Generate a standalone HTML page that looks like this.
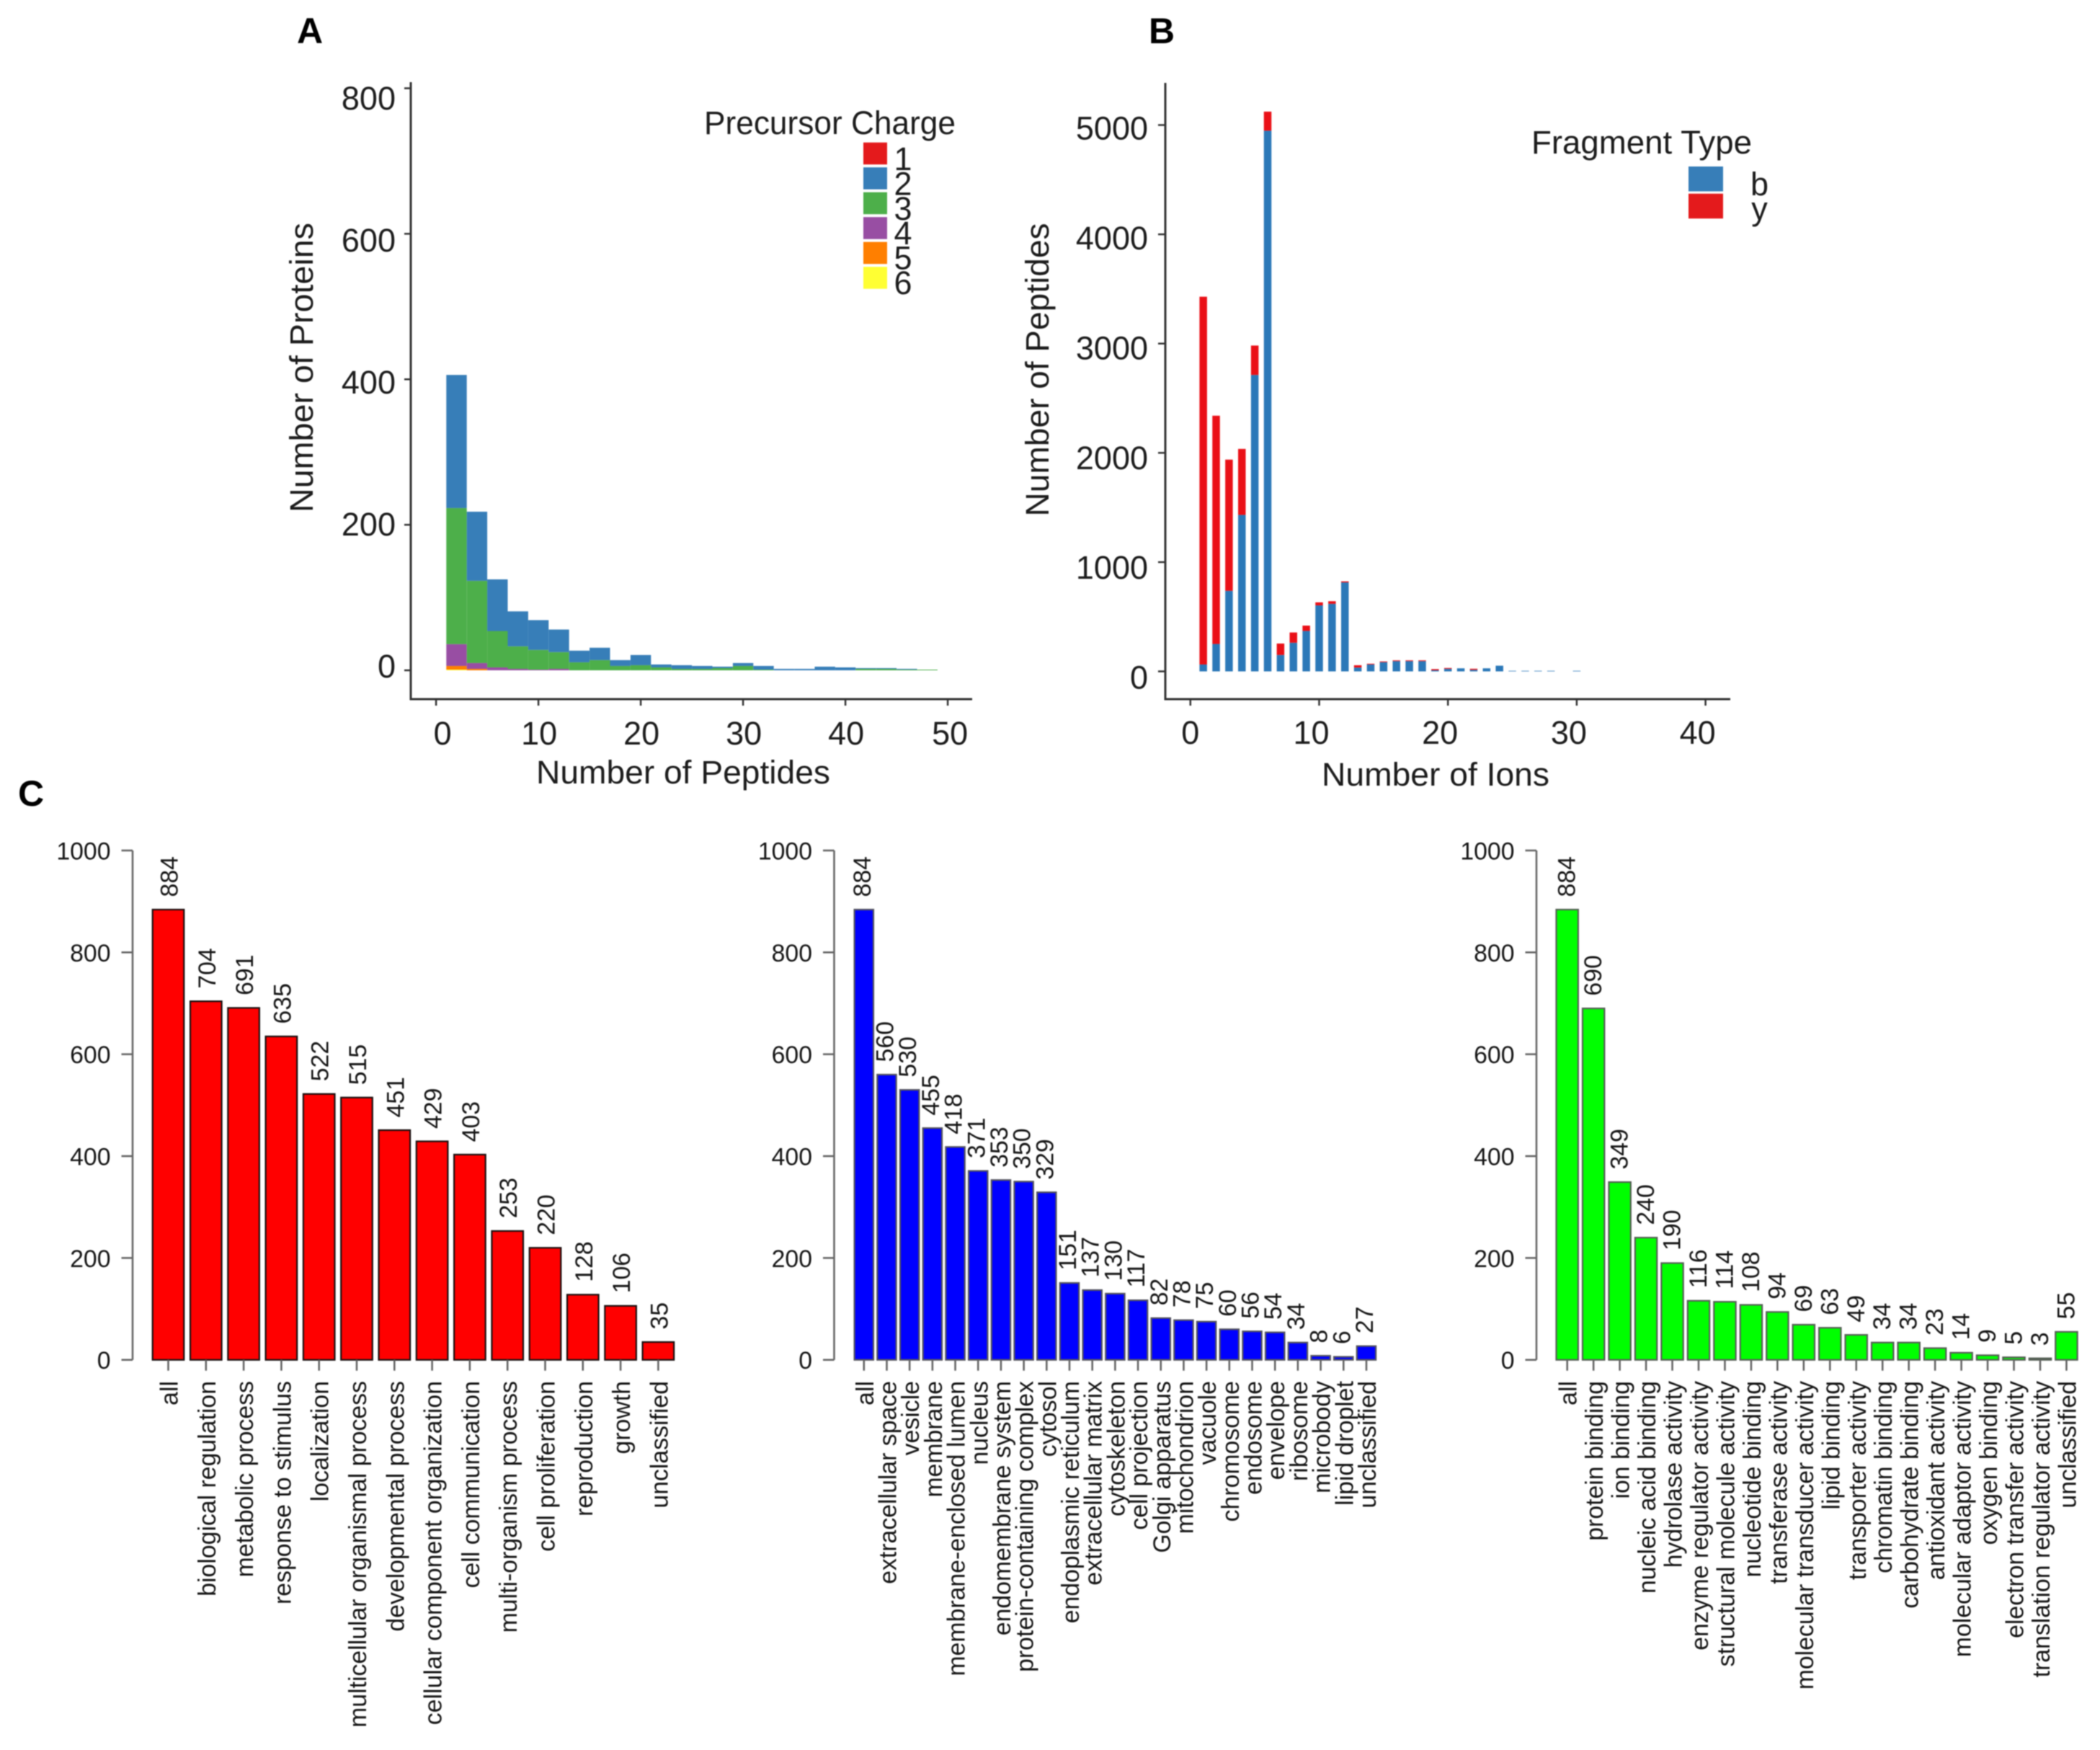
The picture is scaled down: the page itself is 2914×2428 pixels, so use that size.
<!DOCTYPE html>
<html lang="en">
<head>
<meta charset="utf-8">
<title>Proteomics summary charts</title>
<style>
html,body{margin:0;padding:0;background:#fff;}
body{width:2914px;height:2428px;overflow:hidden;}
svg{display:block;filter:blur(0.7px);}
text{font-family:"Liberation Sans",sans-serif;}
.gg{fill:#1c1c1c;font-size:45px;}
.rb{fill:#151515;font-size:33.8px;}
.panel{fill:#000;font-size:50px;font-weight:bold;}
</style>
</head>
<body>
<svg id="figure" xmlns="http://www.w3.org/2000/svg" width="2914" height="2428" viewBox="0 0 2914 2428">
  <rect x="0" y="0" width="2914" height="2428" fill="#fff"/>

  <text class="panel" x="412" y="60">A</text>
  <text class="panel" x="1594" y="60">B</text>
  <text class="panel" x="25" y="1118">C</text>

  <g id="chartA">
    <text class="gg" x="948" y="1087" text-anchor="middle" textLength="408" lengthAdjust="spacingAndGlyphs">Number of Peptides</text>
    <text class="gg" transform="translate(434,510) rotate(-90)" text-anchor="middle" textLength="402" lengthAdjust="spacingAndGlyphs">Number of Proteins</text>
    <text class="gg" x="977" y="186" textLength="349" lengthAdjust="spacingAndGlyphs">Precursor Charge</text>
  </g>

  <g id="chartB">
    <text class="gg" x="1992" y="1090" text-anchor="middle" textLength="316" lengthAdjust="spacingAndGlyphs">Number of Ions</text>
    <text class="gg" transform="translate(1455,513) rotate(-90)" text-anchor="middle" textLength="407" lengthAdjust="spacingAndGlyphs">Number of Peptides</text>
    <text class="gg" x="2125" y="213" textLength="306" lengthAdjust="spacingAndGlyphs">Fragment Type</text>
  </g>

  <g id="chartC1"></g>
  <g id="chartC2"></g>
  <g id="chartC3"></g>
</svg>

<script>
/* ---------- Panel A data ---------- */
const aBinStarts = [1,3,5,7,9,11,13,15,17,19,21,23,25,27,29,31,33,35,37,39,41,43,45,47];
const aCharge6 = [1,0,0,0,0,0,0,0,0,0,0,0,0,0,0,0,0,0,0,0,0,0,0,0];
const aCharge5 = [5,2,0,0,0,0,0,0,0,0,0,0,0,0,0,0,0,0,0,0,0,0,0,0];
const aCharge4 = [30,8,4,2,1,2,0,0,0,0,0,0,0,0,0,0,0,0,0,0,0,0,0,0];
const aCharge3 = [187,113,50,31,27,23,11,14,6,7,4,2,2,3,6,1,0,0,0,0,2,2,1,1];
const aCharge2 = [183,95,71,48,41,31,16,17,8,14,4,5,4,2,4,5,2,2,5,4,1,1,1,0];
const aXTicks = [0,10,20,30,40,50];
const aYTicks = [0,200,400,600,800];
const aLegendLabels = ['1','2','3','4','5','6'];

/* ---------- Panel B data ---------- */
const bIons = [1,2,3,4,5,6,7,8,9,10,11,12,13,14,15,16,17,18,19,20,21,22,23,24,25,26,27,28,30];
const bTypeB = [63,251,737,1432,2713,4948,150,262,370,604,618,814,35,63,84,94,94,94,10,24,28,14,28,52,5,5,5,5,5];
const bTypeY = [3366,2089,1201,604,269,175,105,94,49,28,24,10,21,7,7,7,7,7,11,7,0,10,0,0,0,0,0,0,0];
const bXTicks = [0,10,20,30,40];
const bYTicks = [0,1000,2000,3000,4000,5000];
const bLegendLabels = ['b','y'];

/* ---------- Panel C data ---------- */
const c1Categories = ['all','biological regulation','metabolic process','response to stimulus','localization','multicellular organismal process','developmental process','cellular component organization','cell communication','multi-organism process','cell proliferation','reproduction','growth','unclassified'];
const c1Values = [884,704,691,635,522,515,451,429,403,253,220,128,106,35];
const c2Categories = ['all','extracellular space','vesicle','membrane','membrane-enclosed lumen','nucleus','endomembrane system','protein-containing complex','cytosol','endoplasmic reticulum','extracellular matrix','cytoskeleton','cell projection','Golgi apparatus','mitochondrion','vacuole','chromosome','endosome','envelope','ribosome','microbody','lipid droplet','unclassified'];
const c2Values = [884,560,530,455,418,371,353,350,329,151,137,130,117,82,78,75,60,56,54,34,8,6,27];
const c3Categories = ['all','protein binding','ion binding','nucleic acid binding','hydrolase activity','enzyme regulator activity','structural molecule activity','nucleotide binding','transferase activity','molecular transducer activity','lipid binding','transporter activity','chromatin binding','carbohydrate binding','antioxidant activity','molecular adaptor activity','oxygen binding','electron transfer activity','translation regulator activity','unclassified'];
const c3Values = [884,690,349,240,190,116,114,108,94,69,63,49,34,34,23,14,9,5,3,55];
const cYTicks = [0,200,400,600,800,1000];

/* ---------- helpers ---------- */
const NS = 'http://www.w3.org/2000/svg';
function mk(parent, tag, attrs, txt){
  const el = document.createElementNS(NS, tag);
  for (const k in attrs) el.setAttribute(k, attrs[k]);
  if (txt !== undefined) el.textContent = txt;
  parent.appendChild(el);
  return el;
}
function slug(s){ return String(s).toLowerCase().replace(/[^a-z0-9]+/g,'-'); }

/* ---------- Panel A ---------- */
(function(){
  const g = document.getElementById('chartA');
  const X = v => 605.1 + v*14.2;
  const Y = v => 930 - v*1.0094;
  const axisColor = '#333';

  const stackOrder = [
    {values:aCharge6, color:'#FFFF33', name:'charge-6'},
    {values:aCharge5, color:'#FF7F00', name:'charge-5'},
    {values:aCharge4, color:'#984EA3', name:'charge-4'},
    {values:aCharge3, color:'#4DAF4A', name:'charge-3'},
    {values:aCharge2, color:'#377EB8', name:'charge-2'}
  ];
  aBinStarts.forEach((start,i)=>{
    let base = 0;
    stackOrder.forEach(s=>{
      const v = s.values[i];
      if (v > 0) {
        const r = mk(g,'rect',{x:X(start),y:Y(base+v),width:X(start+2)-X(start),height:Y(base)-Y(base+v),fill:s.color});
        
        
      }
      base += v;
    });
  });

  const yLine = mk(g,'line',{x1:570,y1:114,x2:570,y2:971.5,stroke:axisColor,'stroke-width':3});
  
  
  const xLine = mk(g,'line',{x1:568.5,y1:970,x2:1349,y2:970,stroke:axisColor,'stroke-width':3});
  
  

  aYTicks.forEach(v=>{
    const t = mk(g,'line',{x1:561,y1:Y(v),x2:570,y2:Y(v),stroke:axisColor,'stroke-width':2.5});
    
    
    const l = mk(g,'text',{x:549,y:924 - v*0.985 + 16,'text-anchor':'end',class:'gg'},String(v));
    
    
  });
  aXTicks.forEach(v=>{
    const t = mk(g,'line',{x1:X(v),y1:970,x2:X(v),y2:979,stroke:axisColor,'stroke-width':2.5});
    
    
    const l = mk(g,'text',{x:X(v)+(v===0?9:(v===50?3:1)),y:1033,'text-anchor':'middle',class:'gg'},String(v));
    
    
  });

  const swatchColors = ['#E41A1C','#377EB8','#4DAF4A','#984EA3','#FF7F00','#FFFF33'];
  aLegendLabels.forEach((lab,i)=>{
    const sw = mk(g,'rect',{x:1198,y:197.7+i*34.5,width:33,height:30.5,fill:swatchColors[i]});
    
    
    const l = mk(g,'text',{x:1253,y:236+i*34.4,'text-anchor':'middle',class:'gg'},lab);
    
    
  });
})();

/* ---------- Panel B ---------- */
(function(){
  const g = document.getElementById('chartB');
  const X = v => 1651.8 + v*17.87;
  const Y = v => 931.5 - v*0.1516;
  const axisColor = '#333';
  const barW = 10.5;

  bIons.forEach((ion,i)=>{
    const b = bTypeB[i], y = bTypeY[i];
    const rb = mk(g,'rect',{x:X(ion)-barW/2,y:Y(b),width:barW,height:Y(0)-Y(b),fill:'#2b78b8'});
    
    
    if (y > 0) {
      const ry = mk(g,'rect',{x:X(ion)-barW/2,y:Y(b+y),width:barW,height:Y(b)-Y(b+y),fill:'#ea1017'});
      
      
    }
  });

  const yLine = mk(g,'line',{x1:1617,y1:115,x2:1617,y2:971.5,stroke:axisColor,'stroke-width':3});
  
  
  const xLine = mk(g,'line',{x1:1615.5,y1:970,x2:2401,y2:970,stroke:axisColor,'stroke-width':3});
  
  

  bYTicks.forEach(v=>{
    const t = mk(g,'line',{x1:1607,y1:Y(v),x2:1617,y2:Y(v),stroke:axisColor,'stroke-width':2.5});
    
    
    const l = mk(g,'text',{x:1593,y:940.5 - v*0.15236 + 15,'text-anchor':'end',class:'gg'},String(v));
    
    
  });
  bXTicks.forEach(v=>{
    const t = mk(g,'line',{x1:X(v),y1:970,x2:X(v),y2:979,stroke:axisColor,'stroke-width':2.5});
    
    
    const l = mk(g,'text',{x:v===0?X(v):X(v)-11,y:1032,'text-anchor':'middle',class:'gg'},String(v));
    
    
  });

  const swatchColors = ['#377EB8','#E41A1C'];
  bLegendLabels.forEach((lab,i)=>{
    const sw = mk(g,'rect',{x:2343,y:231+i*37.7,width:48,height:34.5,fill:swatchColors[i]});
    
    
    const l = mk(g,'text',{x:2441.5,y:271+i*34,'text-anchor':'middle',class:'gg'},lab);
    
    
  });
})();

/* ---------- Panel C ---------- */
function drawGoChart(id, categories, values, opts){
  const g = document.getElementById(id);
  const Y = v => 1886.7 - v*0.7067;
  const X = i => opts.firstCenter + i*opts.step;
  const barW = opts.step/1.2;
  const axisColor = '#666';

  const yLine = mk(g,'line',{x1:opts.axisX,y1:Y(1000),x2:opts.axisX,y2:Y(0),stroke:axisColor,'stroke-width':2.6});
  
  

  cYTicks.forEach(v=>{
    const t = mk(g,'line',{x1:opts.axisX-15.5,y1:Y(v),x2:opts.axisX,y2:Y(v),stroke:axisColor,'stroke-width':2.6});
    
    
    const l = mk(g,'text',{x:opts.axisX-30.5,y:Y(v)+12.5,'text-anchor':'end',class:'rb'},String(v));
    
    
  });

  categories.forEach((cat,i)=>{
    const cx = X(i), v = values[i];
    const r = mk(g,'rect',{x:cx-barW/2,y:Y(v),width:barW,height:Y(0)-Y(v),fill:opts.color,stroke:opts.edge,'stroke-width':2.2});
    
    
    const t = mk(g,'line',{x1:cx,y1:Y(0),x2:cx,y2:Y(0)+15,stroke:axisColor,'stroke-width':2.6});
    
    
    const vx = cx+opts.valueOffset, vy = Y(v)-17.5;
    const vl = mk(g,'text',{transform:'translate('+vx+','+vy+') rotate(-90)',class:'rb'},String(v));
    
    
    const lx = cx+13;
    const cl = mk(g,'text',{transform:'translate('+lx+',1916) rotate(-90)','text-anchor':'end',class:'rb'},cat);
    
    
  });
}
drawGoChart('chartC1', c1Categories, c1Values, {name:'bp',color:'#ff0000',edge:'#1a1010',axisX:184,firstCenter:233.5,step:52.3,valueOffset:13});
drawGoChart('chartC2', c2Categories, c2Values, {name:'cc',color:'#0000ff',edge:'#55555f',axisX:1157.5,firstCenter:1198.8,step:31.69,valueOffset:9});
drawGoChart('chartC3', c3Categories, c3Values, {name:'mf',color:'#00ff00',edge:'#555f55',axisX:2132,firstCenter:2174.7,step:36.46,valueOffset:11});
</script>
</body>
</html>
